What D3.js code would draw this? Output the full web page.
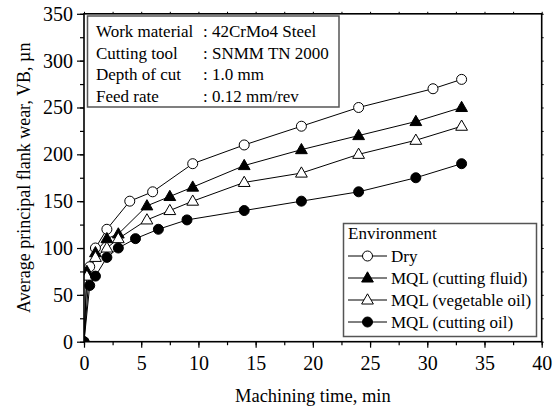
<!DOCTYPE html>
<html>
<head>
<meta charset="utf-8">
<script src="https://cdn.jsdelivr.net/npm/d3@7"></script>
</head>
<body style="margin:0; background:#fff">
<svg id="chart" width="557" height="409" font-family="Liberation Serif" style="font-family:'Liberation Serif'"></svg>
<script>
// data
let dryT   = [0, 0.5, 1, 2, 4, 6, 9.5, 14, 19, 24, 30.5, 33];
let dryV   = [0, 80, 100, 120, 150, 160, 190, 210, 230, 250, 270, 280];
let fluidT = [0, 0.25, 1, 2, 3, 5.5, 7.5, 9.5, 14, 19, 24, 29, 33];
let fluidV = [0, 75, 95, 110, 115, 145, 155, 165, 188, 205, 220, 235, 250];
let vegT   = [0, 0.25, 1, 2, 3, 5.5, 7.5, 9.5, 14, 19, 24, 29, 33];
let vegV   = [0, 70, 90, 100, 110, 130, 140, 150, 170, 180, 200, 215, 230];
let oilT   = [0, 0.5, 1, 2, 3, 4.5, 6.5, 9, 14, 19, 24, 29, 33];
let oilV   = [0, 60, 70, 90, 100, 110, 120, 130, 140, 150, 160, 175, 190];

let seriesNames = ["Dry", "MQL (cutting fluid)", "MQL (vegetable oil)", "MQL (cutting oil)"];
let seriesMarks = ["circleOpen", "triFilled", "triOpen", "circleFilled"];
let xTicks = [0, 5, 10, 15, 20, 25, 30, 35, 40];
let yTicks = [0, 50, 100, 150, 200, 250, 300, 350];
let infoKeys = ["Work material", "Cutting tool", "Depth of cut", "Feed rate"];
let infoVals = [": 42CrMo4 Steel", ": SNMM TN 2000", ": 1.0 mm", ": 0.12 mm/rev"];

let svg = d3.select("#chart");
let pLeft = 84, pRight = 541.7, pTop = 13.8, pBottom = 341.7;

let x = d3.scaleLinear().domain([0, 40]).range([pLeft, pRight]);
let y = d3.scaleLinear().domain([0, 350]).range([pBottom, pTop]);

let series = [
    {t: dryT, v: dryV},
    {t: fluidT, v: fluidV},
    {t: vegT, v: vegV},
    {t: oilT, v: oilV}
].map((s, i) => ({
    name: seriesNames[i],
    mark: seriesMarks[i],
    pts: s.t.map((t, j) => [t, s.v[j]])
}));

function serif(sel, size) {
    return sel.attr("font-family", "Liberation Serif").attr("font-size", size)
        .style("font", size + "px 'Times New Roman'")
        .style("font-family", "'Liberation Serif'");
}
function label(g, px, py, str, size) {
    return serif(g.append("text").attr("x", px).attr("y", py), size)
        .attr("fill", "#000").text(str);
}

svg.append("defs").append("clipPath").attr("id", "plotclip")
    .append("rect").attr("x", pLeft).attr("y", pTop)
    .attr("width", pRight - pLeft).attr("height", pBottom - pTop);

function drawMark(g, type, cx, cy) {
    if (type.startsWith("circle")) {
        g.append("circle").attr("cx", cx).attr("cy", cy).attr("r", 5)
            .attr("fill", type === "circleFilled" ? "#000" : "#fff")
            .attr("stroke", "#000").attr("stroke-width", 1);
    } else {
        let s = 6.2;
        let p = [[cx, cy - s], [cx + s * 0.95, cy + s * 0.65], [cx - s * 0.95, cy + s * 0.65]];
        g.append("path").attr("d", "M" + p.join("L") + "Z")
            .attr("fill", type === "triFilled" ? "#000" : "#fff")
            .attr("stroke", "#000").attr("stroke-width", 1);
    }
}

// lines and markers
let plot = svg.append("g").attr("clip-path", "url(#plotclip)");
let line = d3.line().x(d => x(d[0])).y(d => y(d[1]));
series.forEach(s => {
    plot.append("path").attr("d", line(s.pts))
        .attr("fill", "none").attr("stroke", "#000").attr("stroke-width", 1);
});
series.forEach(s => {
    let g = plot.append("g");
    s.pts.forEach(p => drawMark(g, s.mark, x(p[0]), y(p[1])));
});

// axes
let xMinor = d3.range(0, 40.01, 2.5);
let yMinor = d3.range(0, 350.1, 25);

let xAxis = svg.append("g").attr("transform", "translate(0," + pBottom + ")")
    .call(d3.axisBottom(x).tickValues(xTicks).tickSize(6).tickPadding(5).tickFormat(d3.format("d")));
let yAxis = svg.append("g").attr("transform", "translate(" + pLeft + ",0)")
    .call(d3.axisLeft(y).tickValues(yTicks).tickSize(7).tickPadding(4).tickFormat(d3.format("d")));
[xAxis, yAxis].forEach(a => {
    serif(a, 20);
    a.select(".domain").remove();
    a.selectAll("line").attr("stroke", "#000").attr("stroke-width", 1.2);
    serif(a.selectAll("text"), 20);
});
xAxis.selectAll("text").attr("dy", "0.85em");

svg.append("g").attr("transform", "translate(0," + pBottom + ")")
    .call(d3.axisBottom(x).tickValues(xMinor).tickSize(3.5).tickFormat(""))
    .call(a => a.select(".domain").remove())
    .selectAll("line").attr("stroke", "#000").attr("stroke-width", 1.2);
svg.append("g").attr("transform", "translate(" + pLeft + ",0)")
    .call(d3.axisLeft(y).tickValues(yMinor).tickSize(4).tickFormat(""))
    .call(a => a.select(".domain").remove())
    .selectAll("line").attr("stroke", "#000").attr("stroke-width", 1.2);
svg.append("g").attr("transform", "translate(0," + pTop + ")")
    .call(d3.axisTop(x).tickValues(xMinor).tickSize(2).tickFormat(""))
    .call(a => a.select(".domain").remove())
    .selectAll("line").attr("stroke", "#000").attr("stroke-width", 1);
svg.append("g").attr("transform", "translate(" + pRight + ",0)")
    .call(d3.axisRight(y).tickValues(yMinor).tickSize(2).tickFormat(""))
    .call(a => a.select(".domain").remove())
    .selectAll("line").attr("stroke", "#000").attr("stroke-width", 1);

svg.append("rect").attr("x", pLeft).attr("y", pTop)
    .attr("width", pRight - pLeft).attr("height", pBottom - pTop)
    .attr("fill", "none").attr("stroke", "#000").attr("stroke-width", 1.6);

// axis titles
label(svg, (pLeft + pRight) / 2, 402, "Machining time, min", 18.5)
    .attr("text-anchor", "middle");
label(svg, 0, 0, "Average principal flank wear, VB, µn", 18)
    .attr("x", null).attr("y", null)
    .attr("transform", "translate(30," + (pTop + pBottom) / 2 + ") rotate(-90)")
    .attr("text-anchor", "middle");

// info box
let info = svg.append("g");
info.append("rect").attr("x", 87.5).attr("y", 16).attr("width", 251.5).attr("height", 91)
    .attr("fill", "#fff").attr("stroke", "#555").attr("stroke-width", 1.5);
infoKeys.forEach((k, i) => {
    label(info, 96, 37 + i * 21.7, k, 17);
    label(info, 203, 37 + i * 21.7, infoVals[i], 17);
});

// legend
let leg = svg.append("g");
leg.append("rect").attr("x", 343.5).attr("y", 223.5).attr("width", 193).attr("height", 113)
    .attr("fill", "#fff").attr("stroke", "#555").attr("stroke-width", 1.5);
label(leg, 348, 239, "Environment", 17);
series.forEach((s, i) => {
    let cy = 256 + i * 22;
    leg.append("line").attr("x1", 348).attr("x2", 387).attr("y1", cy).attr("y2", cy)
        .attr("stroke", "#000").attr("stroke-width", 1);
    drawMark(leg, s.mark, 367.5, cy);
    label(leg, 391, cy + 6, s.name, 17);
});
</script>
</body>
</html>
